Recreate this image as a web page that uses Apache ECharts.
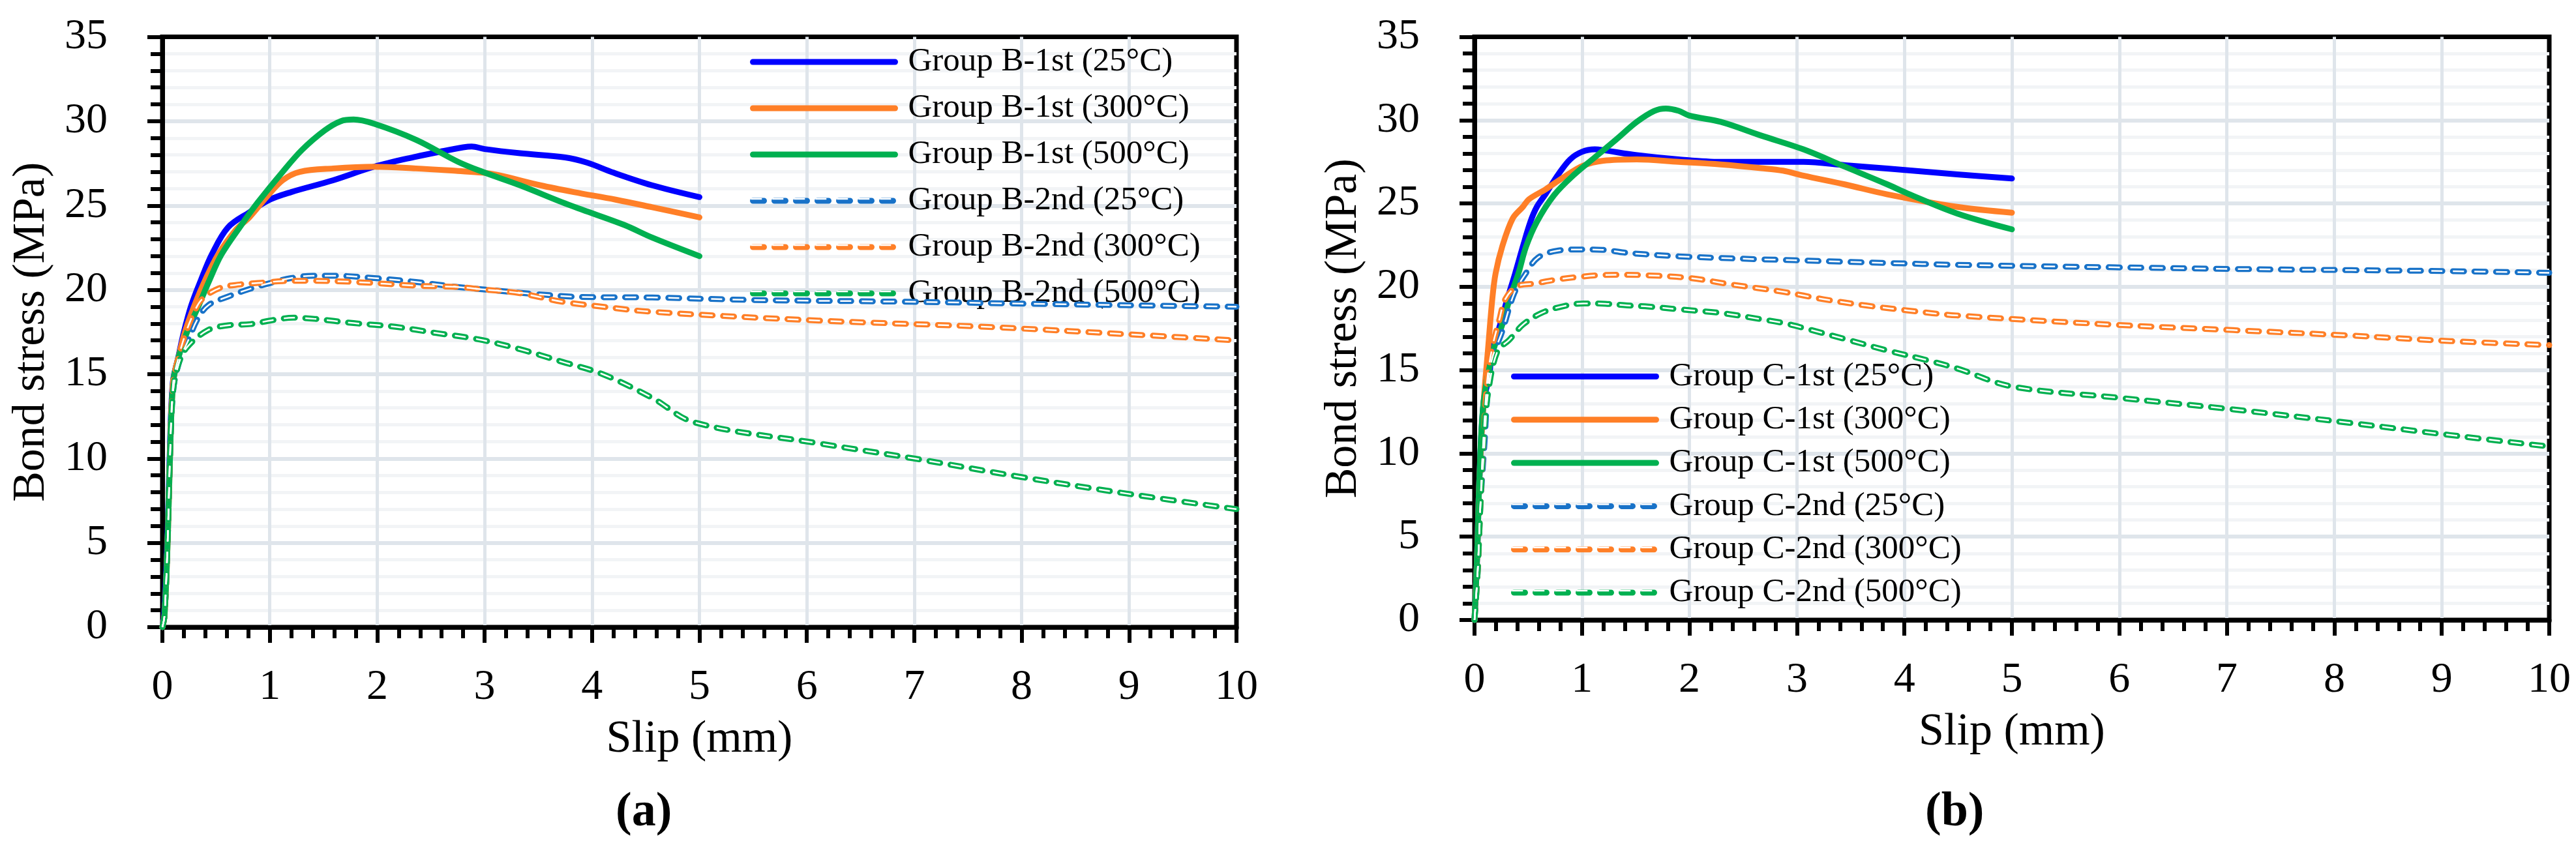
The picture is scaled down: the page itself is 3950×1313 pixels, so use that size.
<!DOCTYPE html>
<html>
<head>
<meta charset="utf-8">
<script src="https://cdn.jsdelivr.net/npm/echarts@6/dist/echarts.min.js"></script>
<style>
html,body{margin:0;padding:0;background:#fff;}
#c{width:3950px;height:1313px;}
</style>
</head>
<body>
<div id="c"></div>
<script>
// ---------- DATA ----------
const xTicks = [0,1,2,3,4,5,6,7,8,9,10];
const yTicks = [0,5,10,15,20,25,30,35];

const namesB = ['Group B-1st (25°C)','Group B-1st (300°C)','Group B-1st (500°C)',
                'Group B-2nd (25°C)','Group B-2nd (300°C)','Group B-2nd (500°C)'];
const namesC = ['Group C-1st (25°C)','Group C-1st (300°C)','Group C-1st (500°C)',
                'Group C-2nd (25°C)','Group C-2nd (300°C)','Group C-2nd (500°C)'];

// Panel (a)
const B1_25 = [[0,0],[0.016,0.7],[0.047,5.3],[0.067,9.9],[0.097,14.5],[0.148,16],[0.2,17.5],[0.27,19.1],[0.36,20.6],[0.46,22.1],[0.61,23.7],[0.81,24.6],[1.0,25.35],[1.2,25.8],[1.59,26.5],[1.97,27.3],[2.36,27.9],[2.59,28.2],[2.8,28.45],[2.88,28.5],[3.0,28.35],[3.33,28.1],[3.75,27.85],[3.95,27.55],[4.2,26.95],[4.56,26.2],[5.0,25.5]];
const B1_300 = [[0,0],[0.02,0.7],[0.05,5.3],[0.07,9.9],[0.1,14.5],[0.15,16],[0.21,17.5],[0.3,19.1],[0.4,20.6],[0.52,22.1],[0.69,23.6],[0.81,24.3],[0.97,25.5],[1.12,26.5],[1.28,27.0],[1.59,27.2],[1.97,27.3],[2.36,27.2],[2.75,27.05],[2.98,26.95],[3.13,26.8],[3.52,26.2],[3.83,25.8],[4.22,25.35],[4.56,24.9],[5.0,24.3]];
const B1_500 = [[0,0],[0.02,0.7],[0.05,5.3],[0.07,9.9],[0.1,14.5],[0.15,16],[0.23,17.5],[0.34,19.1],[0.44,20.6],[0.55,22.1],[0.73,23.8],[0.89,25.2],[1.12,27.0],[1.3,28.3],[1.51,29.45],[1.66,30.0],[1.78,30.1],[1.97,29.85],[2.36,28.9],[2.75,27.6],[2.98,27.0],[3.33,26.2],[3.72,25.2],[3.91,24.75],[4.3,23.85],[4.56,23.1],[5.0,22.0]];
const B2_25 = [[0,0],[0.02,0.7],[0.05,5.3],[0.07,9.9],[0.1,14.0],[0.16,15.8],[0.24,17.0],[0.33,18.3],[0.43,19.1],[0.61,19.6],[0.82,20.07],[1.0,20.4],[1.2,20.7],[1.4,20.84],[1.6,20.84],[1.97,20.7],[2.36,20.47],[2.75,20.17],[3.13,19.95],[3.52,19.73],[3.91,19.58],[4.56,19.55],[5.5,19.4],[6.88,19.3],[8.43,19.14],[10,19.0]];
const B2_300 = [[0,0],[0.02,0.7],[0.05,5.3],[0.07,9.9],[0.1,14.5],[0.15,16],[0.21,17.3],[0.29,18.6],[0.37,19.45],[0.53,20.1],[0.72,20.32],[0.92,20.42],[1.12,20.52],[1.39,20.54],[1.78,20.47],[2.36,20.25],[2.75,20.17],[2.98,20.03],[3.33,19.8],[3.72,19.3],[4.1,19.0],[4.56,18.7],[6.11,18.18],[7.66,17.81],[9.21,17.29],[10,17.0]];
const B2_500 = [[0,0],[0.02,0.7],[0.05,5.3],[0.07,9.9],[0.1,14.0],[0.15,15.6],[0.23,16.6],[0.42,17.6],[0.61,17.9],[0.82,17.97],[1.02,18.2],[1.22,18.35],[1.42,18.28],[1.78,18.03],[2.17,17.81],[2.55,17.44],[2.94,17.07],[3.33,16.48],[3.72,15.74],[4.1,15.0],[4.56,13.6],[4.95,12.15],[6.11,10.9],[7.0,10.0],[8.0,8.9],[9.0,7.9],[10,7.0]];

// Panel (b)
const C1_25 = [[0,0],[0.024,3.8],[0.045,8.4],[0.085,13.1],[0.135,14.6],[0.166,16.2],[0.237,17.7],[0.307,19.3],[0.378,20.8],[0.449,22.4],[0.52,23.9],[0.58,24.8],[0.66,25.55],[0.78,26.75],[0.89,27.65],[1.0,28.1],[1.12,28.25],[1.2,28.2],[1.51,27.9],[1.9,27.65],[2.29,27.5],[2.67,27.5],[3.06,27.5],[3.45,27.3],[3.84,27.1],[4.49,26.75],[5.0,26.5]];
const C1_300 = [[0,0],[0.024,3.8],[0.045,8.4],[0.085,13.1],[0.125,16.2],[0.166,19.3],[0.196,20.8],[0.257,22.4],[0.355,24.1],[0.45,24.8],[0.506,25.25],[0.661,25.85],[0.835,26.6],[1.01,27.27],[1.2,27.57],[1.51,27.65],[1.9,27.5],[2.29,27.34],[2.67,27.12],[2.87,26.97],[3.06,26.67],[3.45,26.14],[3.84,25.55],[4.49,24.8],[5.0,24.45]];
const C1_500 = [[0,0],[0.024,3.8],[0.045,8.4],[0.085,13.1],[0.176,16.2],[0.257,17.7],[0.328,19.3],[0.408,20.8],[0.479,22.4],[0.58,23.9],[0.74,25.5],[0.93,26.75],[1.125,27.8],[1.32,28.85],[1.51,29.9],[1.67,30.55],[1.78,30.7],[1.9,30.56],[2.0,30.27],[2.29,29.9],[2.67,29.07],[3.06,28.25],[3.45,27.2],[3.84,26.15],[4.03,25.6],[4.49,24.4],[5.0,23.45]];
const C2_25 = [[0,0],[0.03,3],[0.055,6.9],[0.095,10.8],[0.12,13.5],[0.16,15.6],[0.257,17.3],[0.368,19.58],[0.479,20.82],[0.59,21.75],[0.78,22.18],[0.985,22.24],[1.19,22.22],[1.39,22.06],[1.59,21.95],[1.9,21.83],[2.29,21.73],[2.67,21.65],[3.06,21.58],[3.45,21.5],[3.84,21.43],[4.49,21.32],[5.96,21.17],[7.06,21.07],[8.16,21.0],[9.08,20.94],[10,20.84]];
const C2_300 = [[0,0],[0.03,3],[0.055,6.9],[0.085,11],[0.12,14.5],[0.17,16.5],[0.23,18.0],[0.287,19.27],[0.4,20.04],[0.56,20.2],[0.76,20.43],[0.965,20.59],[1.17,20.7],[1.37,20.72],[1.57,20.7],[2.0,20.53],[2.38,20.15],[2.87,19.7],[3.25,19.25],[3.64,18.88],[4.03,18.58],[4.49,18.28],[5.96,17.72],[7.06,17.4],[8.16,17.07],[9.08,16.74],[10,16.5]];
const C2_500 = [[0,0],[0.03,3],[0.055,6.9],[0.085,11],[0.135,14.0],[0.217,16.18],[0.32,16.79],[0.449,17.72],[0.62,18.42],[0.81,18.81],[1.015,19.0],[1.22,18.98],[1.42,18.88],[1.62,18.81],[1.9,18.65],[2.29,18.43],[2.67,18.05],[2.87,17.83],[3.06,17.53],[3.45,16.86],[3.84,16.18],[4.22,15.58],[4.49,15.1],[5.0,14.02],[5.96,13.36],[7.06,12.64],[8.16,11.82],[9.08,11.1],[10,10.41]];

const colors = ['#0000FF','#FF7F27','#00B050','#1872C8','#FF7F27','#00B050'];

// ---------- CHART ----------
const FONT = "'Palatino Linotype','Book Antiqua',Palatino,'Liberation Serif',serif";
const DASH = [17,16];
const SMOOTH = 0.35;

function solid(name, data, color, idx){
  return {name, type:'line', data, xAxisIndex:idx, yAxisIndex:idx, symbol:'none',
    smooth:SMOOTH, z:3,
    lineStyle:{color, width:9, cap:'round', join:'round'}};
}
function dashed(name, data, color, idx){
  return [
    {name, type:'line', data, xAxisIndex:idx, yAxisIndex:idx, symbol:'none',
      smooth:SMOOTH, z:4,
      lineStyle:{color, width:9, type:DASH, cap:'round', join:'round'}},
    {name:name+' core', type:'line', data, xAxisIndex:idx, yAxisIndex:idx, symbol:'none',
      smooth:SMOOTH, z:5, silent:true,
      lineStyle:{color:'#ffffff', width:2.5, type:DASH, cap:'butt', join:'round'}}
  ];
}

const gridsPx = [
  {left:249, top:56.6, width:1647, height:905.4},
  {left:2261, top:56.6, width:1648, height:894.4}
];

function xAxis(idx){
  return {type:'value', gridIndex:idx, min:0, max:10, interval:1,
    name:'Slip (mm)', nameLocation:'middle', nameGap:138,
    nameTextStyle:{fontFamily:FONT, fontSize:70, color:'#000'},
    axisLine:{show:true, onZero:false, lineStyle:{color:'#000', width:7}},
    axisTick:{show:true, inside:false, length:24, lineStyle:{color:'#000', width:6}},
    minorTick:{show:true, splitNumber:5, length:17, lineStyle:{color:'#000', width:6}},
    axisLabel:{fontFamily:FONT, fontSize:66, color:'#000', margin:60,
      formatter:v => xTicks.includes(v) ? String(v) : ''},
    splitLine:{show:true, showMinLine:false, showMaxLine:false, lineStyle:{color:'#DFE5EB', width:5}},
    minorSplitLine:{show:false}
  };
}
function yAxis(idx){
  return {type:'value', gridIndex:idx, min:0, max:35, interval:5,
    name:'Bond stress (MPa)', nameLocation:'middle', nameGap:165,
    nameTextStyle:{fontFamily:FONT, fontSize:70, color:'#000'},
    axisLine:{show:true, onZero:false, lineStyle:{color:'#000', width:7}},
    axisTick:{show:true, inside:false, length:23, lineStyle:{color:'#000', width:6}},
    minorTick:{show:true, splitNumber:5, length:18, lineStyle:{color:'#000', width:6}},
    axisLabel:{fontFamily:FONT, fontSize:66, color:'#000', margin:84,
      formatter:v => yTicks.includes(v) ? String(v) : ''},
    splitLine:{show:true, showMinLine:false, showMaxLine:false, lineStyle:{color:'#DFE5EB', width:6}},
    minorSplitLine:{show:true, lineStyle:{color:'#F2F4F6', width:5}}
  };
}

function legendItems(names, core){
  return names.map((n, i) => {
    const isDash = core || i >= 3;
    return {name: core ? n + ' core' : n,
      lineStyle: core ? {color:'#ffffff', width:2.5, type:DASH, cap:'butt'}
                      : {width:9, type: isDash ? DASH : 'solid', cap:'round'}};
  });
}
function legend(items, left, top, gap, transparentText){
  return {orient:'vertical', left, top, padding:0, itemWidth:218, itemHeight:50, itemGap:gap,
    selectedMode:false, data:items, itemStyle:{opacity:0},
    textStyle:{fontFamily:FONT, fontSize:51, lineHeight:50, color: transparentText ? 'rgba(0,0,0,0)' : '#000',
      padding:[0,0,0,15]}};
}

const series = [];
const setB = [B1_25,B1_300,B1_500,B2_25,B2_300,B2_500];
const setC = [C1_25,C1_300,C1_500,C2_25,C2_300,C2_500];
[0,1,2].forEach(i => series.push(solid(namesB[i], setB[i], colors[i], 0)));
[3,4,5].forEach(i => series.push(...dashed(namesB[i], setB[i], colors[i], 0)));
[0,1,2].forEach(i => series.push(solid(namesC[i], setC[i], colors[i], 1)));
[3,4,5].forEach(i => series.push(...dashed(namesC[i], setC[i], colors[i], 1)));

const chart = echarts.init(document.getElementById('c'), null, {renderer:'canvas'});
chart.setOption({
  animation:false,
  backgroundColor:'#ffffff',
  title:[
    {text:'(a)', left:944, top:1210, padding:0, textStyle:{fontFamily:FONT, fontSize:74, fontWeight:'bold', color:'#000'}},
    {text:'(b)', left:2952, top:1210, padding:0, textStyle:{fontFamily:FONT, fontSize:74, fontWeight:'bold', color:'#000'}}
  ],
  grid: gridsPx.map(g => Object.assign({show:true, borderColor:'#000', borderWidth:7, backgroundColor:'rgba(0,0,0,0)'}, g)),
  xAxis:[xAxis(0), xAxis(1)],
  yAxis:[yAxis(0), yAxis(1)],
  legend:[
    legend(legendItems(namesB, false), 1150, 69.5, 20, false),
    legend(legendItems(namesB.slice(3), true), 1150, 69.5+3*70, 20, true),
    legend(legendItems(namesC, false), 2317, 552, 15.3, false),
    legend(legendItems(namesC.slice(3), true), 2317, 552+3*65.3, 15.3, true)
  ],
  series
});
</script>
</body>
</html>
